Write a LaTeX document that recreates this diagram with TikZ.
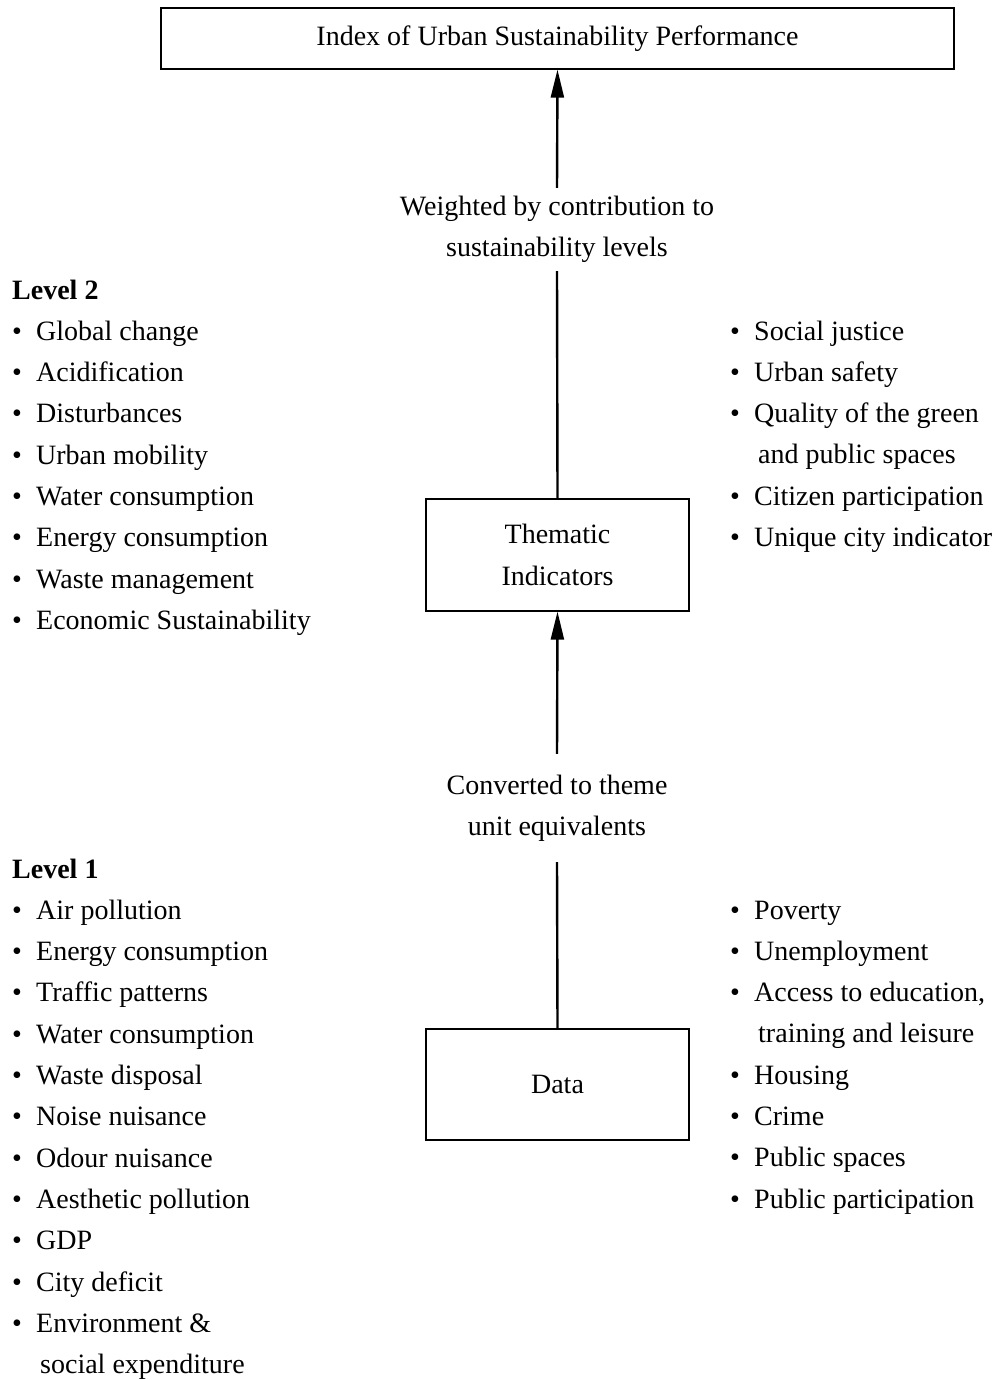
\documentclass[tikz,border=0pt]{standalone}
\usepackage{fontspec}
\setmainfont{Liberation Serif}
\usepackage{tikz}
\usetikzlibrary{arrows.meta, positioning}
\newcommand\Bul{\makebox[24pt][l]{\textbullet}}
\newcommand\Cont{\hspace*{28pt}}
\tikzset{
  box/.style = {draw, line width=1.3pt, inner sep=0pt, align=center},
  note/.style = {inner sep=0pt, align=center, minimum height=#1},
  lst/.style = {inner sep=0pt, anchor=base west},
  flow/.style = {line width=2.4pt, -{Triangle[length=28pt, width=13pt]}},
  link/.style = {line width=2.4pt}
}

\begin{document}
\begin{tikzpicture}[x=1pt, y=-1pt, font=\fontsize{28}{41.3}\selectfont]
  \useasboundingbox (0,0) rectangle (998,1380);

  % middle column
  \node [box, minimum width=793pt, minimum height=61pt] at (557.5,38.5) (index) {Index of Urban Sustainability Performance};
  \node [note=83pt] at (557,229.5) (weight) {Weighted by contribution to\\sustainability levels};
  \node [box, minimum width=263pt, minimum height=112pt] at (557.5,555) (thematic) {Thematic\\Indicators};
  \node [note=108pt] at (557,808) (convert) {Converted to theme\\unit equivalents};
  \node [box, minimum width=263pt, minimum height=111pt] at (557.5,1084.5) (data) {Data};

  \draw [flow] (weight.north) -- (index.south);
  \draw [link] (thematic.north) -- (weight.south);
  \draw [flow] (convert.north) -- (thematic.south);
  \draw [link] (data.north) -- (convert.south);

  % level 2 lists
  \node [lst] at (12,299) (lvltwo) {\begin{tabular}[t]{@{}l@{}}
    \textbf{Level 2}\\
    \Bul Global change\\
    \Bul Acidification\\
    \Bul Disturbances\\
    \Bul Urban mobility\\
    \Bul Water consumption\\
    \Bul Energy consumption\\
    \Bul Waste management\\
    \Bul Economic Sustainability
  \end{tabular}};
  \node [lst] at (730,340) (rtwo) {\begin{tabular}[t]{@{}l@{}}
    \Bul Social justice\\
    \Bul Urban safety\\
    \Bul Quality of the green\\
    \Cont and public spaces\\
    \Bul Citizen participation\\
    \Bul Unique city indicator
  \end{tabular}};

  % level 1 lists
  \node [lst] at (12,878) (lvlone) {\begin{tabular}[t]{@{}l@{}}
    \textbf{Level 1}\\
    \Bul Air pollution\\
    \Bul Energy consumption\\
    \Bul Traffic patterns\\
    \Bul Water consumption\\
    \Bul Waste disposal\\
    \Bul Noise nuisance\\
    \Bul Odour nuisance\\
    \Bul Aesthetic pollution\\
    \Bul GDP\\
    \Bul City deficit\\
    \Bul Environment \&\\
    \Cont social expenditure
  \end{tabular}};
  \node [lst] at (730,919) (rone) {\begin{tabular}[t]{@{}l@{}}
    \Bul Poverty\\
    \Bul Unemployment\\
    \Bul Access to education,\\
    \Cont training and leisure\\
    \Bul Housing\\
    \Bul Crime\\
    \Bul Public spaces\\
    \Bul Public participation
  \end{tabular}};
\end{tikzpicture}
\end{document}
